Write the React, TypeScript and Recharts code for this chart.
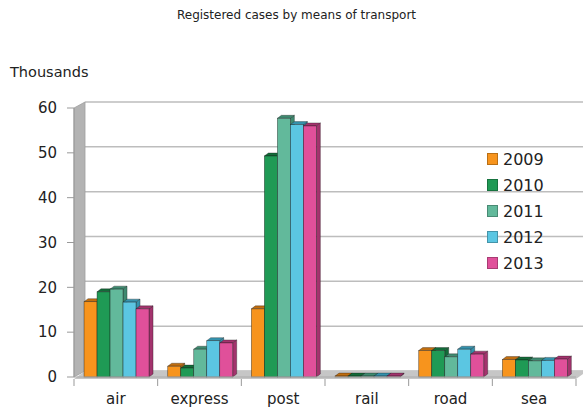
import React from 'react';
import { BarChart, Bar, XAxis, YAxis, CartesianGrid, Legend, ReferenceArea } from 'recharts';

const categories = ['air', 'express', 'post', 'rail', 'road', 'sea'];
const years = ['2009', '2010', '2011', '2012', '2013'];
const v2009 = [16.8, 2.4, 15.2, 0.2, 5.9, 3.9];
const v2010 = [19.0, 2.0, 49.3, 0.2, 5.9, 3.8];
const v2011 = [19.6, 6.2, 57.7, 0.2, 4.5, 3.6];
const v2012 = [16.7, 8.1, 56.3, 0.2, 6.2, 3.7];
const v2013 = [15.2, 7.6, 56.0, 0.2, 5.1, 4.0];
const yTicks = [0, 10, 20, 30, 40, 50, 60];

const seriesValues = [v2009, v2010, v2011, v2012, v2013];
const colors = ['#f7941d', '#1f9a55', '#62b99b', '#5bc6e2', '#e0509a'];
const darkColors = ['#c06e10', '#136b39', '#3f8a70', '#3592ad', '#a3336d'];

const data = categories.map((c, i) => {
  const row: any = { name: c };
  years.forEach((y, k) => { row[y] = seriesValues[k][i]; });
  return row;
});

const FONT = '"DejaVu Sans", Verdana, sans-serif';
const DX = 11;
const DY = 6;

const makeBar3D = (k: number) => (props: any) => {
  const { x, y, width, height } = props;
  if (x == null || y == null || !width) return <g />;
  const w = width;
  const h = Math.max(height, 0);
  const d = 4;
  const dy = 3;
  const fill = colors[k];
  const dark = darkColors[k];
  const stroke = 'rgba(20,20,20,0.55)';
  return (
    <g>
      <polygon
        points={`${x + w},${y} ${x + w + d},${y - dy} ${x + w + d},${y + h - dy} ${x + w},${y + h}`}
        fill={dark}
        stroke={stroke}
        strokeWidth={0.6}
      />
      <polygon
        points={`${x},${y} ${x + d},${y - dy} ${x + w + d},${y - dy} ${x + w},${y}`}
        fill={dark}
        stroke={stroke}
        strokeWidth={0.6}
      />
      <rect x={x} y={y} width={w} height={h} fill={fill} stroke={stroke} strokeWidth={0.7} />
    </g>
  );
};

const gridLine = (props: any) => {
  const { x1, y1, index } = props;
  return (
    <line
      key={`gl-${index}`}
      x1={x1 + DX}
      y1={y1 - DY}
      x2={583}
      y2={y1 - DY}
      stroke="#bdbdbd"
      strokeWidth={1.5}
    />
  );
};

const WallFloor = (props: any) => {
  const { x, y, width, height } = props;
  if (x == null) return <g />;
  const b = y + height;
  return (
    <g>
      <polygon
        points={`${x},${b} ${x},${y} ${x + DX},${y - DY} ${x + DX},${b - DY}`}
        fill="#b3b3b3"
        stroke="#a0a0a0"
        strokeWidth={0.8}
      />
      <polygon
        points={`${x},${b + 2} ${x + width},${b + 2} ${x + width + DX},${b - DY} ${x + DX},${b - DY}`}
        fill="#c6c6c6"
      />
    </g>
  );
};

const XTick = (props: any) => {
  const { x, y, payload, index, visibleTicksCount } = props;
  const off = payload && payload.offset ? payload.offset : 41.8;
  const last = index === (visibleTicksCount ?? categories.length) - 1;
  return (
    <g>
      <line x1={x - off} y1={y + 2} x2={x - off} y2={y + 9} stroke="#999" strokeWidth={1} />
      {last && <line x1={x + off} y1={y + 2} x2={x + off} y2={y + 9} stroke="#999" strokeWidth={1} />}
      <text x={x} y={y + 27} textAnchor="middle" fontFamily={FONT} fontSize={15} fill="#222">
        {payload.value}
      </text>
    </g>
  );
};

const LegendContent = (props: any) => {
  const payload = props.payload || [];
  return (
    <div style={{ fontFamily: FONT, fontSize: 16, color: '#222' }}>
      {payload.map((p: any, i: number) => (
        <div key={i} style={{ display: 'flex', alignItems: 'center', height: 26 }}>
          <span
            style={{
              display: 'inline-block',
              width: 9,
              height: 10,
              background: p.color,
              border: '1px solid rgba(0,0,0,0.25)',
              marginRight: 5,
            }}
          />
          <span>{p.value}</span>
        </div>
      ))}
    </div>
  );
};

export default function App() {
  return (
    <div style={{ position: 'absolute', left: 0, top: 0, width: 583, height: 408, background: '#fff' }}>
      <div
        style={{
          position: 'absolute',
          left: 0,
          width: 593,
          top: 8,
          textAlign: 'center',
          fontFamily: FONT,
          fontSize: 12,
          color: '#222',
        }}
      >
        Registered cases by means of transport
      </div>
      <div
        style={{
          position: 'absolute',
          left: 10,
          top: 64,
          fontFamily: FONT,
          fontSize: 14.5,
          color: '#222',
        }}
      >
        Thousands
      </div>
      <BarChart
        width={583}
        height={408}
        data={data}
        margin={{ top: 108, right: 7, bottom: 0, left: 0 }}
        barCategoryGap="12%"
        barGap={0}
      >
        <CartesianGrid vertical={false} horizontal={gridLine} />
        <ReferenceArea y1={0} y2={60} shape={WallFloor} ifOverflow="visible" />
        <XAxis
          dataKey="name"
          height={31}
          tickSize={0}
          tickMargin={0}
          tickLine={false}
          axisLine={{ stroke: '#aaa', strokeWidth: 1 }}
          tick={XTick}
          interval={0}
        />
        <YAxis
          width={74}
          domain={[0, 60]}
          ticks={yTicks}
          tickSize={7}
          tickMargin={10}
          axisLine={{ stroke: '#999' }}
          tickLine={{ stroke: '#999' }}
          tick={{ fontFamily: FONT, fontSize: 15, fill: '#222' }}
        />
        <Legend
          layout="horizontal"
          align="center"
          verticalAlign="middle"
          content={LegendContent}
          wrapperStyle={{ position: 'absolute', left: 487, top: 146, width: 80 }}
        />
        {years.map((yr, k) => (
          <Bar
            key={yr}
            dataKey={yr}
            name={yr}
            fill={colors[k]}
            isAnimationActive={false}
            shape={makeBar3D(k)}
          />
        ))}
      </BarChart>
    </div>
  );
}
